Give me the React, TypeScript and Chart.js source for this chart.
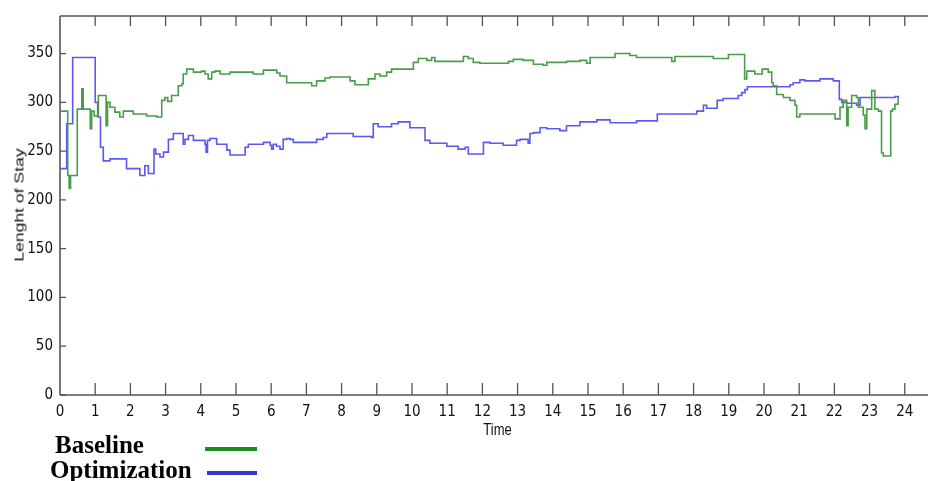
import React, { useEffect, useRef } from "react";
import { Chart, registerables } from "chart.js";

Chart.register(...registerables);

// ---- Data ----
const xTickValues = [0, 1, 2, 3, 4, 5, 6, 7, 8, 9, 10, 11, 12, 13, 14, 15, 16, 17, 18, 19, 20, 21, 22, 23, 24];
const yTickValues = [0, 50, 100, 150, 200, 250, 300, 350];

const baselineTime = [
  0.0, 0.22, 0.26, 0.3, 0.49, 0.62, 0.66, 0.86, 0.9, 0.97, 1.09, 1.31, 1.35, 1.42, 1.56, 1.7, 1.8, 2.08,
  2.46, 2.75, 2.89, 2.98, 3.06, 3.17, 3.36, 3.46, 3.5, 3.6, 3.79, 4.02, 4.12, 4.21, 4.31, 4.4, 4.55, 4.83,
  5.49, 5.78, 6.16, 6.25, 6.44, 7.15, 7.29, 7.53, 7.67, 8.24, 8.38, 8.76, 8.95, 9.09, 9.28, 9.42, 10.04,
  10.18, 10.42, 10.56, 10.65, 11.46, 11.6, 11.74, 11.93, 12.74, 12.88, 13.16, 13.45, 13.73, 13.83, 14.39,
  14.77, 14.96, 15.06, 15.77, 16.19, 16.38, 17.38, 17.47, 18.56, 18.99, 19.45, 19.51, 19.74, 19.95, 20.12,
  20.22, 20.26, 20.36, 20.55, 20.74, 20.88, 20.93, 21.02, 21.97, 22.02, 22.16, 22.25, 22.35, 22.39, 22.49,
  22.63, 22.68, 22.82, 22.87, 22.92, 23.06, 23.15, 23.25, 23.34, 23.39, 23.6, 23.65, 23.72, 23.81, 23.84,
];
const baselineValue = [
  291, 225, 212, 225, 293, 314, 293, 273, 291, 286, 307, 276, 300, 295, 290, 285, 291, 288,
  286, 285, 302, 305, 301, 307, 317, 319, 329, 334, 331, 332, 329, 324, 331, 332, 329, 331,
  329, 333, 330, 327, 320, 317, 322, 325, 326, 322, 318, 324, 329, 327, 331, 334, 341,
  345, 343, 346, 342, 347, 345, 341, 340, 342, 344, 343, 339, 338, 341, 342,
  343, 340, 346, 350, 348, 346, 342, 347, 345, 349, 324, 332, 329, 334, 331,
  320, 317, 308, 305, 302, 297, 285, 288, 288, 283, 295, 302, 276, 295, 307,
  305, 295, 287, 273, 293, 312, 293, 291, 248, 245, 291, 293, 298, 305, 305,
];

const optimizationTime = [
  0.0, 0.19, 0.36, 1.0, 1.07, 1.15, 1.23, 1.42, 1.89, 2.27, 2.41, 2.51, 2.67, 2.72, 2.84, 2.94, 3.08,
  3.22, 3.5, 3.55, 3.65, 3.79, 4.12, 4.15, 4.19, 4.26, 4.45, 4.74, 4.83, 5.26, 5.35, 5.78, 5.97, 6.01,
  6.06, 6.15, 6.25, 6.34, 6.44, 6.53, 6.63, 7.29, 7.48, 7.58, 8.33, 8.85, 8.9, 9.04, 9.42, 9.61, 9.94,
  10.37, 10.51, 10.99, 11.31, 11.51, 11.6, 12.03, 12.22, 12.59, 12.97, 13.07, 13.3, 13.35, 13.45, 13.64,
  13.83, 14.2, 14.39, 14.77, 15.25, 15.63, 16.38, 16.97, 18.09, 18.28, 18.37, 18.67, 18.84, 19.27, 19.37,
  19.46, 19.53, 20.74, 20.83, 21.02, 21.16, 21.59, 21.97, 22.14, 22.21, 22.35, 22.63, 22.73, 23.72, 23.84,
];
const optimizationValue = [
  232, 278, 346, 300, 285, 254, 240, 242, 232, 225, 235, 227, 252, 247, 244, 249, 262,
  268, 257, 262, 266, 261, 257, 249, 261, 263, 257, 251, 246, 254, 257, 259, 256, 252,
  257, 255, 252, 262, 263, 262, 259, 262, 264, 268, 265, 264, 278, 275, 278, 280, 274,
  261, 258, 255, 252, 254, 247, 259, 258, 256, 261, 262, 258, 268, 269, 274,
  273, 271, 276, 280, 282, 279, 281, 288, 291, 297, 294, 302, 304, 307, 310,
  313, 316, 318, 320, 323, 322, 324, 322, 303, 300, 299, 297, 305, 306, 306,
];

const seriesNames = ["Baseline", "Optimization"];
const xTitle = "Time";
const yTitle = "Lenght of Stay";

const X_MAX = 24.66;
const Y_MAX = 388.5;

const tickFont = { family: "'Liberation Sans Narrow', 'DejaVu Sans Condensed', 'Liberation Sans', sans-serif", size: 15 };

const framePlugin = {
  id: "frame",
  beforeDatasetsDraw(chart: any) {
    const { ctx, chartArea } = chart;
    const xs = chart.scales.x;
    const ys = chart.scales.y;
    ctx.save();
    ctx.strokeStyle = "#555";
    ctx.lineWidth = 1.6;
    ctx.beginPath();
    ctx.moveTo(chartArea.left, chartArea.top);
    ctx.lineTo(chartArea.left, chartArea.bottom);
    ctx.moveTo(chartArea.left, chartArea.top);
    ctx.lineTo(chartArea.right, chartArea.top);
    ctx.moveTo(chartArea.left, chartArea.bottom);
    ctx.lineTo(chartArea.right, chartArea.bottom);
    ctx.stroke();
    ctx.lineWidth = 1.3;
    ctx.beginPath();
    for (const v of xTickValues) {
      if (v === 0) continue;
      const px = xs.getPixelForValue(v);
      ctx.moveTo(px, chartArea.top);
      ctx.lineTo(px, chartArea.top + 10);
      ctx.moveTo(px, chartArea.bottom);
      ctx.lineTo(px, chartArea.bottom - 12);
    }
    for (const v of yTickValues) {
      const py = ys.getPixelForValue(v);
      ctx.moveTo(chartArea.left, py);
      ctx.lineTo(chartArea.left + 6, py);
    }
    ctx.stroke();
    ctx.restore();
  },
};

export default function App() {
  const canvasRef = useRef<HTMLCanvasElement | null>(null);

  useEffect(() => {
    if (!canvasRef.current) return;
    const baseline = baselineTime.map((t, i) => ({ x: t, y: baselineValue[i] }));
    const optimization = optimizationTime.map((t, i) => ({ x: t, y: optimizationValue[i] }));
    const chart = new Chart(canvasRef.current, {
      type: "line",
      data: {
        datasets: [
          {
            label: seriesNames[0],
            data: baseline,
            borderColor: "#4a9c4a",
            borderWidth: 1.6,
            pointRadius: 0,
            stepped: "before",
            fill: false,
          },
          {
            label: seriesNames[1],
            data: optimization,
            borderColor: "#5a5af0",
            borderWidth: 1.6,
            pointRadius: 0,
            stepped: "before",
            fill: false,
          },
        ],
      },
      options: {
        animation: false,
        responsive: false,
        maintainAspectRatio: false,
        events: [],
        layout: { padding: { top: 15, right: 0, bottom: 0, left: 0 } },
        plugins: {
          legend: { display: false },
          tooltip: { enabled: false },
          title: { display: false },
        },
        scales: {
          x: {
            type: "linear",
            position: "bottom",
            min: 0,
            max: X_MAX,
            grid: { display: false, drawTicks: false },
            border: { display: false },
            afterBuildTicks: (s: any) => {
              s.ticks = xTickValues.map((v) => ({ value: v }));
            },
            afterFit: (s: any) => {
              s.height = 86;
            },
            ticks: {
              autoSkip: false,
              maxRotation: 0,
              padding: 8,
              color: "#111",
              font: tickFont,
            },
          },
          y: {
            type: "linear",
            position: "left",
            min: 0,
            max: Y_MAX,
            grid: { display: false, drawTicks: false },
            border: { display: false },
            afterBuildTicks: (s: any) => {
              s.ticks = yTickValues.map((v) => ({ value: v }));
            },
            afterFit: (s: any) => {
              s.width = 60;
            },
            ticks: {
              autoSkip: false,
              padding: 7,
              color: "#111",
              font: tickFont,
            },
          },
        },
      },
      plugins: [framePlugin],
    });
    return () => chart.destroy();
  }, []);

  const serif = "'Liberation Serif', 'Times New Roman', serif";
  const sans = "'Liberation Sans', Arial, sans-serif";

  return (
    <div style={{ position: "absolute", left: 0, top: 0, width: 928, height: 481, background: "#fff", overflow: "hidden" }}>
      <canvas ref={canvasRef} width={928} height={481} style={{ position: "absolute", left: 0, top: 0, width: 928, height: 481 }} />
      <div
        style={{
          position: "absolute",
          left: 19,
          top: 205,
          fontFamily: sans,
          fontSize: 13,
          lineHeight: "13px",
          color: "#111",
          whiteSpace: "nowrap",
          transform: "translate(-50%, -50%) rotate(-90deg) scaleX(1.35)",
        }}
      >
        {yTitle}
      </div>
      <div
        style={{
          position: "absolute",
          left: 497.5,
          top: 422.5,
          fontFamily: sans,
          fontSize: 13,
          lineHeight: "13px",
          color: "#111",
          whiteSpace: "nowrap",
          transform: "translateX(-50%) scaleY(1.3)",
        }}
      >
        {xTitle}
      </div>
      <div style={{ position: "absolute", left: 55, top: 432, fontFamily: serif, fontWeight: "bold", fontSize: 25, lineHeight: "25px", color: "#000", whiteSpace: "nowrap" }}>
        {seriesNames[0]}
      </div>
      <div style={{ position: "absolute", left: 205, top: 447, width: 52, height: 4, background: "#1e8c1e" }} />
      <div style={{ position: "absolute", left: 50, top: 457, fontFamily: serif, fontWeight: "bold", fontSize: 25, lineHeight: "25px", color: "#000", whiteSpace: "nowrap" }}>
        {seriesNames[1]}
      </div>
      <div style={{ position: "absolute", left: 207, top: 471, width: 50, height: 4, background: "#3535d5" }} />
    </div>
  );
}
